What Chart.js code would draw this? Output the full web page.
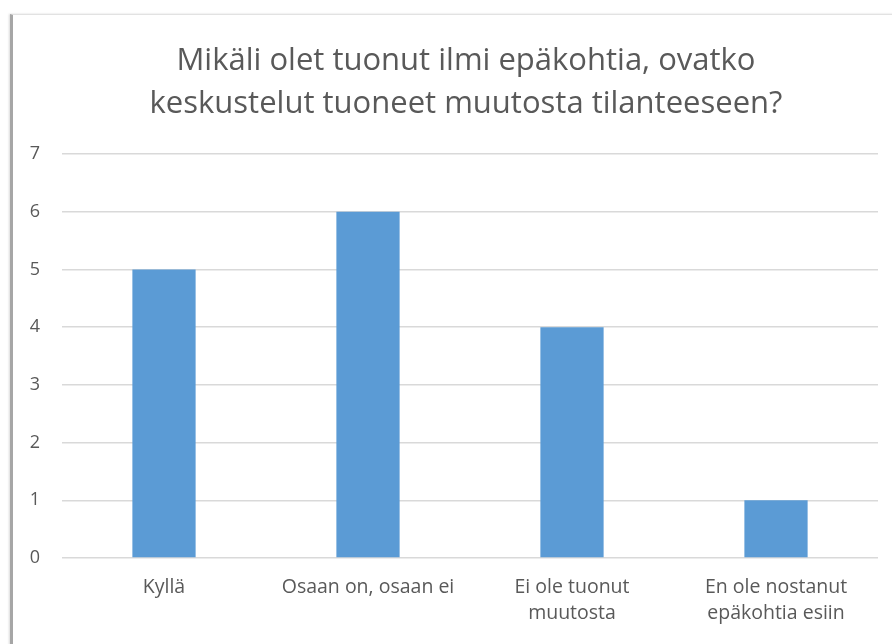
<!DOCTYPE html>
<html>
<head>
<meta charset="utf-8">
<script src="https://cdn.jsdelivr.net/npm/chart.js@4"></script>
<style>
html,body{margin:0;padding:0;background:#fff;width:892px;height:644px;overflow:hidden;}
#frame{position:absolute;left:10px;top:14px;width:882px;height:630px;border-left:3px solid #a6a6a6;border-top:1px solid #e2e2e2;box-shadow:-1px 0 2px rgba(0,0,0,0.15);background:#fff;}
#wrap{position:absolute;left:0;top:0;width:879px;height:629px;}
</style>
</head>
<body>
<div id="frame"><div id="wrap"><canvas id="c"></canvas></div></div>
<script>
const titleLines = ['Mikäli olet tuonut ilmi epäkohtia, ovatko', 'keskustelut tuoneet muutosta tilanteeseen?'];
const categories = [['Kyllä'], ['Osaan on, osaan ei'], ['Ei ole tuonut', 'muutosta'], ['En ole nostanut', 'epäkohtia esiin']];
const values = [5, 6, 4, 1];
const yTicks = [0, 1, 2, 3, 4, 5, 6, 7];

const FONT = '"Open Sans", Lato, sans-serif';
const TEXT = '#595959';

const titlePlugin = {
  id: 'offsetTitle',
  afterDraw(chart) {
    const ctx = chart.ctx;
    ctx.save();
    ctx.font = '31px ' + FONT;
    ctx.fillStyle = TEXT;
    ctx.textAlign = 'center';
    ctx.textBaseline = 'middle';
    titleLines.forEach((t, i) => ctx.fillText(t, 453, 46 + i * 43));
    ctx.restore();
  }
};

new Chart(document.getElementById('c'), {
  type: 'bar',
  data: {
    labels: categories,
    datasets: [{
      data: values,
      backgroundColor: '#5B9BD5',
      borderWidth: 0,
      categoryPercentage: 1,
      barPercentage: 0.31
    }]
  },
  plugins: [titlePlugin],
  options: {
    responsive: true,
    maintainAspectRatio: false,
    animation: false,
    layout: { padding: { left: 0, right: 14, top: 139, bottom: 0 } },
    plugins: {
      legend: { display: false },
      tooltip: { enabled: false },
      title: { display: false }
    },
    scales: {
      x: {
        grid: { display: false },
        border: { display: false },
        ticks: {
          color: TEXT,
          font: { family: FONT, size: 19.5, lineHeight: 1.3 },
          padding: 9,
          maxRotation: 0,
          autoSkip: false
        },
        afterFit: s => { s.height = 86; }
      },
      y: {
        min: 0,
        max: 7,
        afterBuildTicks: s => { s.ticks = yTicks.map(v => ({ value: v })); },
        grid: { color: '#d9d9d9', lineWidth: 1.5, drawTicks: false },
        border: { display: false },
        ticks: {
          color: TEXT,
          font: { family: FONT, size: 18 },
          padding: 22
        },
        afterFit: s => { s.width = 49; }
      }
    }
  }
});
</script>
</body>
</html>
